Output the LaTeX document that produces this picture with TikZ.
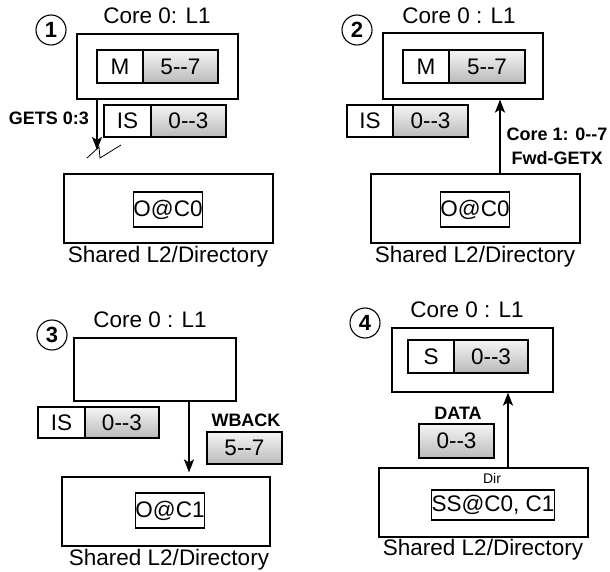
\documentclass[tikz,border=0pt]{standalone}
\usepackage{fontspec}
\setmainfont{Liberation Sans}
\usetikzlibrary{arrows.meta}
\newcommand{\dd}{-{}-}
\begin{document}
\begin{tikzpicture}[x=1pt,y=-1pt,
  every node/.style={font=\fontsize{22.5}{26}\selectfont},
  box/.style={draw=black,line width=1.1pt,rectangle,inner sep=0pt},
  cache/.style={box,minimum height=66pt},
  l2/.style={box,minimum width=209pt,minimum height=69pt},
  st/.style={box,fill=white,minimum width=46pt,minimum height=33pt},
  dat/.style={box,top color=black!4,bottom color=black!27,minimum width=75pt,minimum height=33pt},
  tag/.style={box,minimum height=35pt},
  lbl/.style={inner sep=0pt},
  blbl/.style={inner sep=0pt,font=\fontsize{18}{22}\selectfont\bfseries},
  num/.style={draw=black,line width=1.1pt,circle,minimum size=30pt,inner sep=0pt,font=\fontsize{22}{26}\selectfont\bfseries},
  arr/.style={line width=2pt,-{Stealth[length=13pt,width=10pt,inset=3pt]}}
]
\useasboundingbox (0,0) rectangle (610,572);

% ---------- Panel 1 ----------
\node[num] (n1) at (51,30) {1};
\node[lbl] (t1) at (157,16) {Core 0: L1};
\node[cache,minimum width=161pt,minimum height=65pt] (c1) at (157.5,66.5) {};
\node[st] (s1) at (120,66.5) {M};
\node[dat] (d1) at (180.5,66.5) {5\dd7};
\node[st,minimum width=47pt,minimum height=32pt] (s1b) at (127.5,121) {IS};
\node[dat,minimum height=32pt] (d1b) at (188.5,121) {0\dd3};
\node[l2] (m1) at (168.5,208.5) {};
\node[tag,minimum width=68pt] (o1) at (168,209.5) {O@C0};
\node[lbl] (sl1) at (168,257) {Shared L2/Directory};
\coordinate (z1) at (97,150);
\draw[arr] (c1.south -| z1) -- (z1);
\node[blbl,anchor=east] (g1) at (89,118) {GETS 0:3};
\coordinate (k1) at (87,158);
\coordinate (k2) at (99,147);
\coordinate (k3) at (100,158);
\coordinate (k4) at (121,145);
\draw[line width=0.8pt] (k1) -- (k2) -- (k3) -- (k4);

% ---------- Panel 2 ----------
\node[num] (n2) at (357,30) {2};
\node[lbl] (t2) at (459,16) {Core 0 : L1};
\node[cache,minimum width=160pt] (c2) at (463,66) {};
\node[st] (s2) at (426,66.5) {M};
\node[dat,minimum width=76pt] (d2) at (487,66.5) {5\dd7};
\node[st,minimum height=32pt] (s2b) at (370,121) {IS};
\node[dat,minimum height=32pt] (d2b) at (430.5,121) {0\dd3};
\node[l2] (m2) at (475.5,208.5) {};
\node[tag,minimum width=68pt] (o2) at (475,209.5) {O@C0};
\node[lbl] (sl2) at (475,257) {Shared L2/Directory};
\coordinate (x2) at (500,0);
\draw[arr] (m2.north -| x2) -- (c2.south -| x2);
\node[blbl,align=center] (g2) at (557,146) {Core 1: 0\dd7\\[2pt]Fwd-GETX};

% ---------- Panel 3 ----------
\node[num] (n3) at (52,335) {3};
\node[lbl] (t3) at (150,320) {Core 0 : L1};
\node[cache,minimum width=162pt,minimum height=63pt] (c3) at (155,369.5) {};
\node[st,minimum width=47pt,minimum height=31pt] (s3) at (61.5,422.5) {IS};
\node[dat,minimum width=74pt,minimum height=31pt] (d3) at (122,422.5) {0\dd3};
\node[l2,minimum width=208pt] (m3) at (166,511.5) {};
\node[tag,minimum width=66pt] (o3) at (170,510.5) {O@C1};
\node[lbl] (sl3) at (169,560) {Shared L2/Directory};
\coordinate (x3) at (189,0);
\draw[arr,shorten >=4pt] (c3.south -| x3) -- (m3.north -| x3);
\node[blbl] (g3) at (246,420) {WBACK};
\node[dat,minimum height=32pt] (w3) at (244.5,448) {5\dd7};

% ---------- Panel 4 ----------
\node[num] (n4) at (365,323) {4};
\node[lbl] (t4) at (467,310) {Core 0 : L1};
\node[cache,minimum width=161pt,minimum height=64pt] (c4) at (472.5,360) {};
\node[st] (s4) at (431,356.5) {S};
\node[dat,minimum width=74pt] (d4) at (491,356.5) {0\dd3};
\node[l2] (m4) at (483.5,502.5) {};
\node[lbl,font=\fontsize{14}{16}\selectfont] (dir4) at (492,478) {Dir};
\node[box,minimum width=118pt,minimum height=30pt] (o4) at (493,505) {SS@C0, C1};
\node[lbl] (sl4) at (483,550) {Shared L2/Directory};
\coordinate (x4) at (508,0);
\draw[arr] (m4.north -| x4) -- (c4.south -| x4);
\node[blbl] (g4) at (458,413) {DATA};
\node[dat,minimum height=34pt] (w4) at (456.5,441) {0\dd3};
\end{tikzpicture}
\end{document}
